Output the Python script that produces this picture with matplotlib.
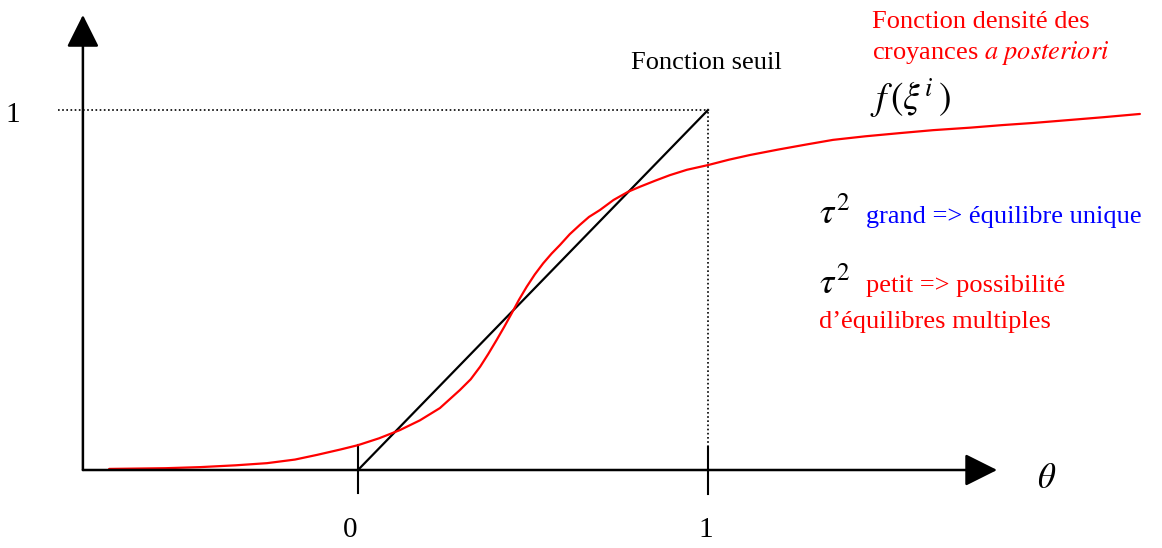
import matplotlib
matplotlib.use("Agg")
import matplotlib.pyplot as plt

plt.rcParams["font.family"] = ["Liberation Serif", "DejaVu Serif"]
plt.rcParams["mathtext.fontset"] = "stix"

# Posterior belief density f(xi^i) against theta
theta_pts = [-0.711, -0.63, -0.55, -0.451, -0.35, -0.260, -0.18, -0.117, -0.05, 0.0,
             0.06, 0.12, 0.177, 0.234, 0.291, 0.322, 0.349, 0.372, 0.396, 0.418,
             0.439, 0.46, 0.482, 0.505, 0.529, 0.553, 0.577, 0.605, 0.634, 0.66,
             0.691, 0.73, 0.772, 0.806, 0.85, 0.891, 0.94, 1.0, 1.06, 1.12,
             1.2, 1.28, 1.357, 1.45, 1.55, 1.643, 1.75, 1.84, 1.929, 2.03,
             2.13, 2.234]
density_pts = [0.003, 0.004, 0.005, 0.008, 0.013, 0.019, 0.029, 0.042, 0.057, 0.069,
               0.088, 0.111, 0.138, 0.172, 0.222, 0.252, 0.287, 0.322, 0.361, 0.398,
               0.435, 0.473, 0.509, 0.543, 0.574, 0.601, 0.625, 0.655, 0.681, 0.703,
               0.722, 0.750, 0.773, 0.787, 0.804, 0.819, 0.834, 0.847, 0.862, 0.875,
               0.890, 0.904, 0.917, 0.927, 0.936, 0.944, 0.951, 0.958, 0.964, 0.972,
               0.980, 0.989]

# Threshold function
seuil_theta = [0.0, 1.0]
seuil_vals = [0.0, 1.0]

x_ticks = [0, 1]
x_tick_labels = ["0", "1"]
y_level = 1.0

W, H = 1162, 548
fig = plt.figure(figsize=(W / 100, H / 100), dpi=100)
ax = fig.add_axes([0, 0, 1, 1])
ax.set_xlim(-358 / 350, (W - 358) / 350)
ax.set_ylim(-(H - 470) / 360, 470 / 360)
ax.axis("off")

x_origin = -0.786
x_end = 1.826
y_end = 1.264

# axes with arrowheads
arrow = dict(arrowstyle="-|>,head_length=1.0,head_width=0.5", color="black",
             lw=1.8, mutation_scale=20, shrinkA=0, shrinkB=0)
ax.annotate("", xy=(x_end, 0), xytext=(x_origin, 0), arrowprops=arrow)
ax.annotate("", xy=(x_origin, y_end), xytext=(x_origin, 0), arrowprops=arrow)

# tick marks
ax.plot([x_ticks[0], x_ticks[0]], [-0.064, 0.069], color="black", lw=1.5)
ax.plot([x_ticks[1], x_ticks[1]], [-0.067, 0.064], color="black", lw=1.5)

# dotted guides at level 1
ax.plot([-0.857, x_ticks[1]], [y_level, y_level], color="black", lw=1.2,
        linestyle=(0, (1, 1.5)))
ax.plot([x_ticks[1], x_ticks[1]], [0.064, y_level], color="black", lw=1.2,
        linestyle=(0, (1, 1.5)))

ax.plot(seuil_theta, seuil_vals, color="black", lw=1.6)
ax.plot(theta_pts, density_pts, color="red", lw=1.6,
        solid_joinstyle="round", solid_capstyle="round")

# labels
fs = 19
ax.text(-1.006, 0.986, "1", fontsize=21, ha="left", va="center")
ax.text(x_ticks[0] - 0.023, -0.186, x_tick_labels[0], fontsize=21,
        ha="center", va="baseline")
ax.text(x_ticks[1] - 0.006, -0.186, x_tick_labels[1], fontsize=21,
        ha="center", va="baseline")
ax.text(1.966, -0.025, r"$\theta$", fontsize=25, ha="center", va="center")

ax.text(0.78, 1.13, "Fonction seuil", fontsize=fs, ha="left", va="center")
ax.text(1.469, 1.245, "Fonction densité des", fontsize=fs, color="red",
        ha="left", va="center")
ax.text(1.469, 1.158, r"croyances $\mathit{a\ posteriori}$", fontsize=fs,
        color="red", ha="left", va="center")
ax.text(1.462, 1.03, r"$f\,(\xi^{i}\,)$", fontsize=27, ha="left", va="center")

ax.text(1.318, 0.708, r"$\tau^{2}$", fontsize=26, ha="left", va="center")
ax.text(1.451, 0.703, "grand => équilibre unique", fontsize=fs, color="blue",
        ha="left", va="center")
ax.text(1.318, 0.515, r"$\tau^{2}$", fontsize=26, ha="left", va="center")
ax.text(1.451, 0.51, "petit => possibilité", fontsize=fs, color="red",
        ha="left", va="center")
ax.text(1.318, 0.41, "d’équilibres multiples", fontsize=fs, color="red",
        ha="left", va="center")

fig.savefig("out.png", dpi=100)
